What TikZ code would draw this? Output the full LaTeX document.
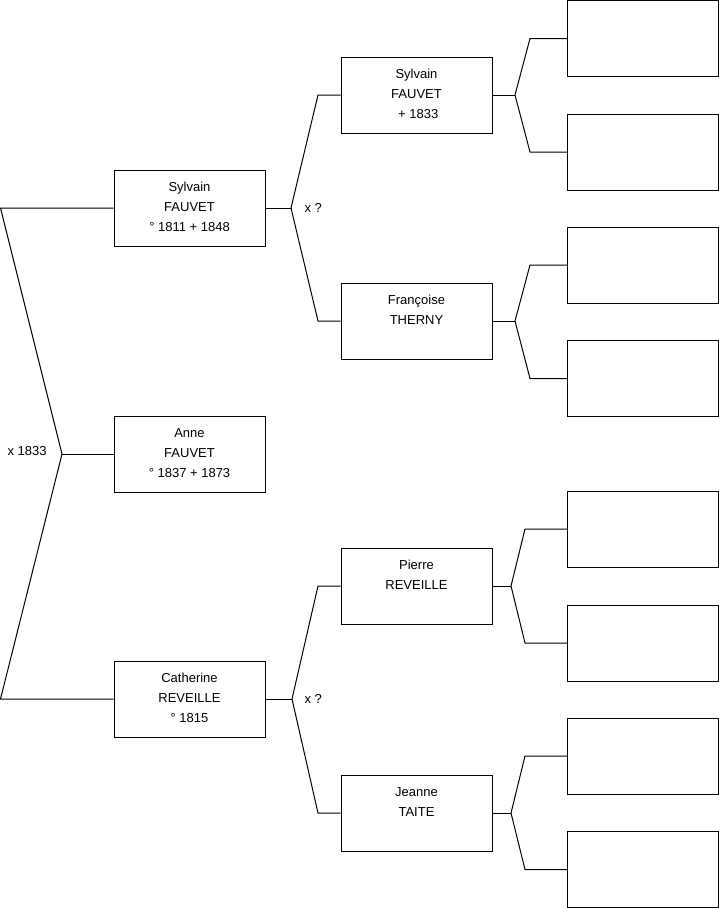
\documentclass[tikz,border=0pt]{standalone}
\usepackage{fontspec}
\setmainfont{Liberation Sans}
\begin{document}
\begin{tikzpicture}[x=1pt,y=-1pt,line width=1pt,
  box/.style={draw,minimum width=151pt,minimum height=76pt,inner sep=0pt},
  txt/.style={anchor=north,inner sep=0pt,align=center,font=\fontsize{13}{20}\selectfont},
  lbl/.style={anchor=west,inner sep=0pt,font=\fontsize{13}{15}\selectfont},
  conn/.style={draw,line join=miter}]
\useasboundingbox (0,0) rectangle (719,908);
% generation 1
\node[box] (a) at (189.5,454) {};
\node[txt] (at) at ([yshift=-12pt]a.north) {\rule{0pt}{9.5pt}Anne\\FAUVET\\° 1837 + 1873};
\node[box] (s1) at (189.5,208) {};
\node[txt] (s1t) at ([yshift=-12pt]s1.north) {\rule{0pt}{9.5pt}Sylvain\\FAUVET\\° 1811 + 1848};
\node[box] (c1) at (189.5,699) {};
\node[txt] (c1t) at ([yshift=-12pt]c1.north) {\rule{0pt}{9.5pt}Catherine\\REVEILLE\\° 1815};
% generation 2
\node[box] (s2) at (416.5,95) {};
\node[txt] (s2t) at ([yshift=-12pt]s2.north) {\rule{0pt}{9.5pt}Sylvain\\FAUVET\\\ + 1833};
\node[box] (f2) at (416.5,321) {};
\node[txt] (f2t) at ([yshift=-12pt]f2.north) {\rule{0pt}{9.5pt}Françoise\\THERNY};
\node[box] (p2) at (416.5,586) {};
\node[txt] (p2t) at ([yshift=-12pt]p2.north) {\rule{0pt}{9.5pt}Pierre\\REVEILLE};
\node[box] (j2) at (416.5,813) {};
\node[txt] (j2t) at ([yshift=-12pt]j2.north) {\rule{0pt}{9.5pt}Jeanne\\TAITE};
% generation 3
\node[box] (g1) at (643,38.5) {};
\node[box] (g2) at (643,152) {};
\node[box] (g3) at (643,265) {};
\node[box] (g4) at (643,378.5) {};
\node[box] (g5) at (643,529) {};
\node[box] (g6) at (643,643) {};
\node[box] (g7) at (643,756) {};
\node[box] (g8) at (643,869.5) {};
% labels
\node[lbl] (la) at (7,451) {x 1833};
\node[lbl] (ls) at (304,208) {x ?};
\node[lbl] (lc) at (304,699) {x ?};
% fork coordinates
\coordinate (fa) at (62,454);
\coordinate (ka1) at (0.5,208);
\coordinate (ka2) at (0.5,699);
\coordinate (fs1) at (291,208);
\coordinate (ks1a) at (318,95);
\coordinate (ks1b) at (318,321);
\coordinate (fc1) at (292,699);
\coordinate (kc1a) at (318,586);
\coordinate (kc1b) at (318,813);
\coordinate (fs2) at (515,95);
\coordinate (ks2a) at (530,38.5);
\coordinate (ks2b) at (530,152);
\coordinate (ff2) at (515,321);
\coordinate (kf2a) at (530,265);
\coordinate (kf2b) at (530,378.5);
\coordinate (fp2) at (511,586);
\coordinate (kp2a) at (525,529);
\coordinate (kp2b) at (525,643);
\coordinate (fj2) at (511,813);
\coordinate (kj2a) at (525,756);
\coordinate (kj2b) at (525,869.5);
% connectors
\draw[conn] (a.west) -- (fa);
\draw[conn] (fa) -- (ka1) -- (s1.west);
\draw[conn] (fa) -- (ka2) -- (c1.west);
\draw[conn] (s1.east) -- (fs1);
\draw[conn] (fs1) -- (ks1a) -- (s2.west);
\draw[conn] (fs1) -- (ks1b) -- (f2.west);
\draw[conn] (c1.east) -- (fc1);
\draw[conn] (fc1) -- (kc1a) -- (p2.west);
\draw[conn] (fc1) -- (kc1b) -- (j2.west);
\draw[conn] (s2.east) -- (fs2);
\draw[conn] (fs2) -- (ks2a) -- (g1.west);
\draw[conn] (fs2) -- (ks2b) -- (g2.west);
\draw[conn] (f2.east) -- (ff2);
\draw[conn] (ff2) -- (kf2a) -- (g3.west);
\draw[conn] (ff2) -- (kf2b) -- (g4.west);
\draw[conn] (p2.east) -- (fp2);
\draw[conn] (fp2) -- (kp2a) -- (g5.west);
\draw[conn] (fp2) -- (kp2b) -- (g6.west);
\draw[conn] (j2.east) -- (fj2);
\draw[conn] (fj2) -- (kj2a) -- (g7.west);
\draw[conn] (fj2) -- (kj2b) -- (g8.west);
\end{tikzpicture}
\end{document}
